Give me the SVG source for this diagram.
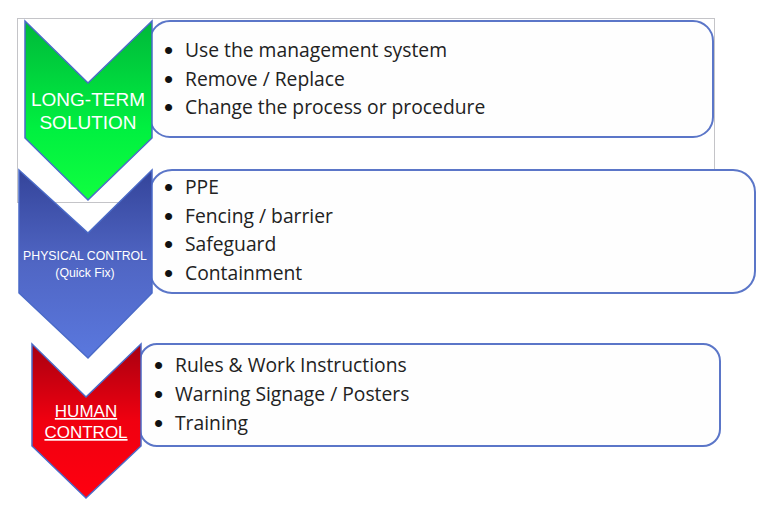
<svg xmlns="http://www.w3.org/2000/svg" width="778" height="525" viewBox="0 0 778 525">
<defs>
<linearGradient id="gGreen" x1="0" y1="0" x2="0" y2="1"><stop offset="0" stop-color="#00b83a"/><stop offset="0.6" stop-color="#00f040"/><stop offset="1" stop-color="#10ff40"/></linearGradient>
<linearGradient id="gBlue" x1="0" y1="0" x2="0" y2="1"><stop offset="0" stop-color="#34449a"/><stop offset="0.5" stop-color="#5066c4"/><stop offset="1" stop-color="#5a78de"/></linearGradient>
<linearGradient id="gRed" x1="0" y1="0" x2="0" y2="1"><stop offset="0" stop-color="#a80010"/><stop offset="0.5" stop-color="#f00010"/><stop offset="1" stop-color="#ff0010"/></linearGradient>
</defs>
<style>
.box{fill:#fefefe;stroke:#5b76c8;stroke-width:2}
.chev{stroke:#4a6ac8;stroke-width:1.5}
.item{font-family:"Open Sans","Liberation Sans",sans-serif;font-size:19.3px;fill:#222}
.bul{font-family:"Liberation Sans",sans-serif;font-size:26px;fill:#111}
.lbl{font-family:"Liberation Sans","Open Sans",sans-serif;fill:#ffffff;text-anchor:middle}
</style>
<rect width="778" height="525" fill="#ffffff"/>
<rect x="17.5" y="18.5" width="697" height="184" fill="none" stroke="#c4c4c8" stroke-width="1"/>
<g id="long-term">
<rect class="box" x="150" y="21" width="563" height="116" rx="20"/>
<polygon class="chev" fill="url(#gGreen)" points="25,21 88,83 152,21 152,138 88,200 25,138"/>
<text class="lbl" font-size="19"><tspan x="88" y="106">LONG-TERM</tspan><tspan x="88" y="129">SOLUTION</tspan></text>
<text class="bul" x="164" y="59">•</text><text class="item" x="185" y="57">Use the management system</text>
<text class="bul" x="164" y="88">•</text><text class="item" x="185" y="86">Remove / Replace</text>
<text class="bul" x="164" y="116">•</text><text class="item" x="185" y="114">Change the process or procedure</text>
</g>
<g id="physical">
<rect class="box" x="150" y="170" width="605" height="123" rx="22"/>
<polygon class="chev" fill="url(#gBlue)" points="19,170 88,233 152,170 152,293 88,358 19,293"/>
<text class="lbl" font-size="12.3"><tspan x="85" y="260">PHYSICAL CONTROL</tspan><tspan x="85" y="277">(Quick Fix)</tspan></text>
<text class="bul" x="164" y="196">•</text><text class="item" x="185" y="194">PPE</text>
<text class="bul" x="164" y="225">•</text><text class="item" x="185" y="223">Fencing / barrier</text>
<text class="bul" x="164" y="253">•</text><text class="item" x="185" y="251">Safeguard</text>
<text class="bul" x="164" y="282">•</text><text class="item" x="185" y="280">Containment</text>
</g>
<g id="human">
<rect class="box" x="140" y="344" width="580" height="102" rx="17"/>
<polygon class="chev" fill="url(#gRed)" points="32,344 86,397 141,344 141,446 86,498 32,446"/>
<text class="lbl" font-size="17" text-decoration="underline"><tspan x="86" y="417">HUMAN</tspan><tspan x="86" y="438">CONTROL</tspan></text>
<text class="bul" x="154" y="374">•</text><text class="item" x="175" y="372">Rules &amp; Work Instructions</text>
<text class="bul" x="154" y="403">•</text><text class="item" x="175" y="401">Warning Signage / Posters</text>
<text class="bul" x="154" y="432">•</text><text class="item" x="175" y="430">Training</text>
</g>
</svg>
